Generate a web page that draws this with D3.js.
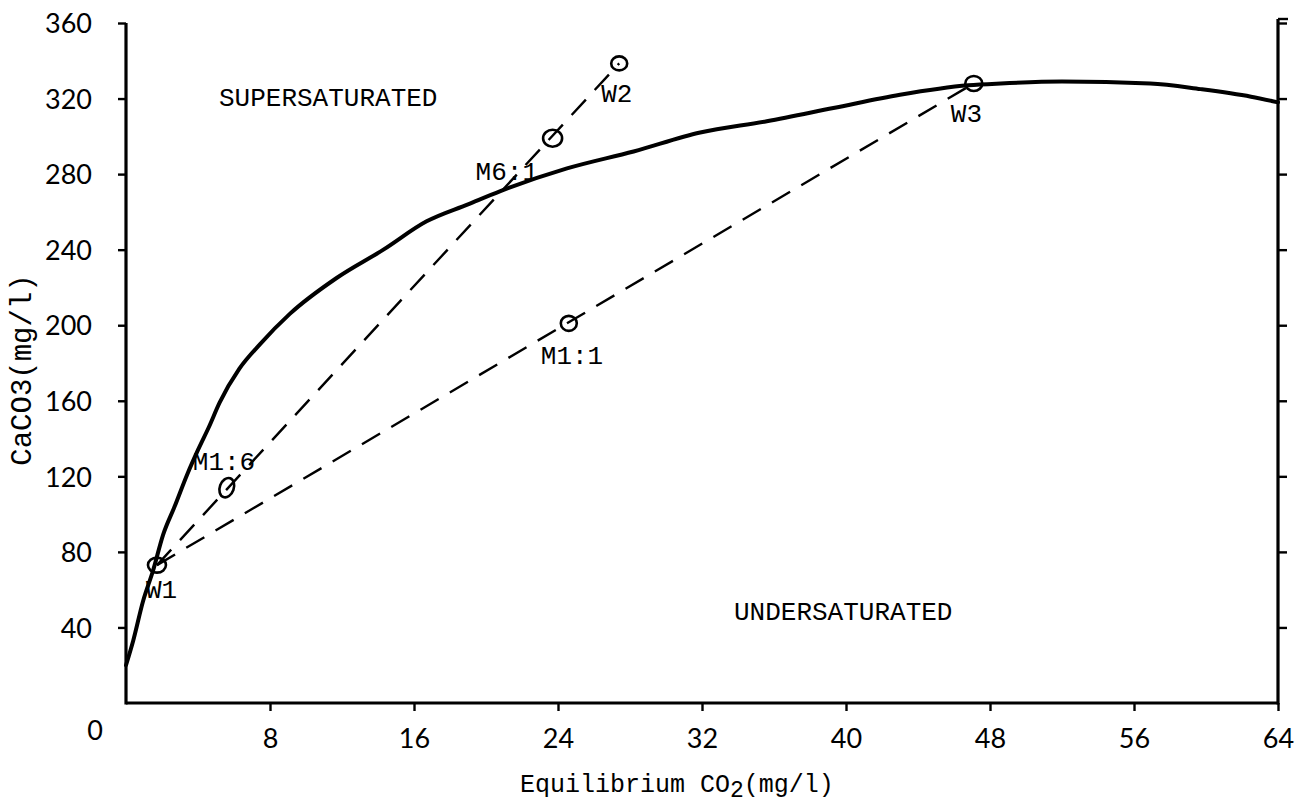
<!DOCTYPE html>
<html>
<head>
<meta charset="utf-8">
<script src="https://cdn.jsdelivr.net/npm/d3@7"></script>
<style>
  html, body { margin: 0; padding: 0; background: #fff; }
  svg { display: block; }
</style>
</head>
<body>
<svg id="chart" width="1301" height="804"></svg>
<script>
// ---------- data ----------
const xTickValues = [8, 16, 24, 32, 40, 48, 56, 64];
const yTickValues = [40, 80, 120, 160, 200, 240, 280, 320, 360];

// saturation curve (Equilibrium CO2 mg/l, CaCO3 mg/l)
const curveCO2   = [0, 0.4, 0.95, 1.5, 2.06, 2.7, 3.4, 4.0, 4.6, 5.2, 6.3, 7.45, 9.1, 11.7, 14.3, 16.7, 19, 20.8, 24.5, 28.2, 31.9, 35.6, 39.3, 43, 46.8, 48.6, 52, 56.9, 59.7, 62.5, 64];
const curveCaCO3 = [20, 33, 54, 70, 89, 104, 121, 134, 146, 159, 177, 190, 206, 225, 240, 255, 264, 271, 283, 292, 302, 308, 315, 322, 327, 328, 329, 328, 325, 321, 318];

// water samples and mixtures
const pointNames = ["W1", "M1:6", "M6:1", "W2", "M1:1", "W3"];
const pointCO2   = [1.72, 5.6, 23.7, 27.4, 24.6, 47.1];
const pointCaCO3 = [73, 114, 299, 338.6, 201, 328];

// mixing lines (from -> to)
const mixFrom = ["W1", "W1"];
const mixTo   = ["W2", "W3"];

const regionLabels = ["SUPERSATURATED", "UNDERSATURATED"];

// ---------- layout ----------
const svg = d3.select("#chart");
const x = d3.scaleLinear().domain([0, 64]).range([126, 1278]);
const y = d3.scaleLinear().domain([0, 360]).range([703, 23]);

const monoFont = "'Liberation Mono', monospace";
const tickFont = "Lato, 'Open Sans', sans-serif";

// axes
const gLeft = svg.append("g").attr("transform", `translate(${x(0)},0)`)
  .call(d3.axisLeft(y).tickValues(yTickValues).tickSize(8).tickSizeOuter(0).tickPadding(26).tickFormat(d3.format("d")));
const gRight = svg.append("g").attr("transform", `translate(${x(64)},0)`)
  .call(d3.axisRight(y).tickValues(yTickValues).tickSize(9).tickSizeOuter(0).tickFormat(""));
const gBottom = svg.append("g").attr("transform", `translate(0,${y(0)})`)
  .call(d3.axisBottom(x).tickValues(xTickValues).tickSize(8).tickSizeOuter(0).tickPadding(18).tickFormat(d3.format("d")));

[gLeft, gRight, gBottom].forEach(g => {
  g.select(".domain").attr("stroke", "#000").attr("stroke-width", 3.2);
  g.selectAll(".tick line").attr("stroke", "#000").attr("stroke-width", 2.4);
  g.selectAll("text").attr("font-family", tickFont).attr("font-size", 27).attr("fill", "#000");
});
gLeft.selectAll(".tick text").attr("dy", "0.36em");
gBottom.selectAll(".tick text").attr("dy", "0.70em");

// extend axis lines to close the frame bottom corners
gLeft.select(".domain").attr("d", `M0,${y(360)}V${y(0) + 1.5}`);
gRight.select(".domain").attr("d", `M0,${y(360) - 4}V${y(0) + 1.5}`);
gRight.append("line").attr("x1", 0).attr("x2", 10).attr("y1", y(360) - 4).attr("y2", y(360) - 4)
  .attr("stroke", "#000").attr("stroke-width", 2.4);
gBottom.select(".domain").attr("d", `M${x(0)},0H${x(64)}`);

// "0" label at origin
svg.append("text").attr("x", x(0) - 31).attr("y", y(0) + 18).attr("dy", "0.70em")
  .attr("text-anchor", "middle").attr("font-family", tickFont).attr("font-size", 27).text("0");

// saturation curve
const curveData = curveCO2.map((c, i) => [c, curveCaCO3[i]]);
svg.append("path")
  .datum(curveData)
  .attr("d", d3.line().x(d => x(d[0])).y(d => y(d[1])).curve(d3.curveMonotoneX))
  .attr("fill", "none").attr("stroke", "#000").attr("stroke-width", 4)
  .attr("stroke-linejoin", "round").attr("stroke-linecap", "round");

// mixing lines
const idx = n => pointNames.indexOf(n);
mixFrom.forEach((f, i) => {
  const a = idx(f), b = idx(mixTo[i]);
  svg.append("line")
    .attr("x1", x(pointCO2[a])).attr("y1", y(pointCaCO3[a]))
    .attr("x2", x(pointCO2[b])).attr("y2", y(pointCaCO3[b]))
    .attr("stroke", "#000").attr("stroke-width", 2.4)
    .attr("stroke-dasharray", "21,13");
});

// point markers
const markerSize = { "W1": [9, 7.5], "M1:6": [7, 10], "M6:1": [9.5, 8.5], "W2": [8, 7], "M1:1": [8, 7.5], "W3": [8.5, 7.5] };
pointNames.forEach((n, i) => {
  const [rx, ry] = markerSize[n];
  svg.append("ellipse")
    .attr("cx", x(pointCO2[i])).attr("cy", y(pointCaCO3[i]))
    .attr("rx", rx).attr("ry", ry)
    .attr("transform", n === "M1:6" ? `rotate(20,${x(pointCO2[i])},${y(pointCaCO3[i])})` : null)
    .attr("fill", "none").attr("stroke", "#000").attr("stroke-width", 2.6);
});

// point labels
const labelOffset = { "W1": [-11, 33], "M1:6": [-34, -18], "M6:1": [-77, 42], "W2": [-18, 39], "M1:1": [-28, 41], "W3": [-23, 39] };
pointNames.forEach((n, i) => {
  const [dx, dy] = labelOffset[n];
  svg.append("text")
    .attr("x", x(pointCO2[i]) + dx).attr("y", y(pointCaCO3[i]) + dy)
    .attr("font-family", monoFont).attr("font-size", 26).attr("fill", "#000")
    .text(n);
});

// region labels
const regionPos = [[219, 106], [734, 620]];
regionLabels.forEach((t, i) => {
  svg.append("text").attr("x", regionPos[i][0]).attr("y", regionPos[i][1])
    .attr("font-family", monoFont).attr("font-size", 26).attr("fill", "#000").text(t);
});

// axis titles
const xt = svg.append("text").attr("x", 520).attr("y", 792)
  .attr("font-family", monoFont).attr("font-size", 25).attr("fill", "#000");
xt.append("tspan").text("Equilibrium CO");
xt.append("tspan").attr("dy", 5).attr("font-size", 23).text("2");
xt.append("tspan").attr("dy", -5).text("(mg/l)");

svg.append("text")
  .attr("transform", `translate(31,${370}) rotate(-90)`)
  .attr("text-anchor", "middle")
  .attr("font-family", monoFont).attr("font-size", 29).attr("fill", "#000")
  .text("CaCO3(mg/l)");
</script>
</body>
</html>
